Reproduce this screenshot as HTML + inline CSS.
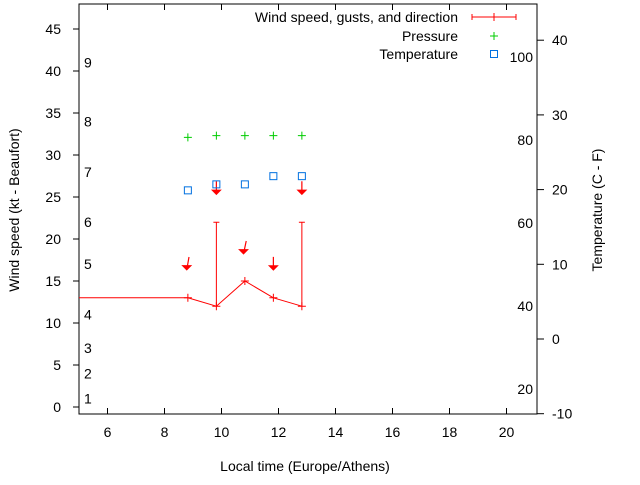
<!DOCTYPE html>
<html><head><meta charset="utf-8"><style>
body{margin:0;background:#fff}
svg text{font-family:"Liberation Sans",sans-serif;fill:#000}
</style></head><body>
<svg id="chart" width="640" height="480" viewBox="0 0 640 480" xmlns="http://www.w3.org/2000/svg">
<g id="axes"></g><g id="marks"></g><g id="legend"></g>
</svg>
<script>
const xTicks=[6,8,10,12,14,16,18,20];
const yTicks=[0,5,10,15,20,25,30,35,40,45];
const cTicks=[-10,0,10,20,30,40];
const fTicks=[20,40,60,80,100];
const beaufortKt=[1,4,7,11,17,22,28,34,41];
const beaufortLabels=["1","2","3","4","5","6","7","8","9"];
const times=[5,8.82,9.82,10.82,11.82,12.82];
const windKt=[13,13,12,15,13,12];
const gustTimes=[9.82,12.82];
const gustKt=[22,22];
const obsTimes=[8.82,9.82,10.82,11.82,12.82];
const arrowKt=[17.1,26.1,19,17.1,26.1];
const dirDeg=[10,0,12,0,0];
const pressureScaled=[32.1,32.3,32.3,32.3,32.3];
const tempC=[19.9,20.7,20.7,21.8,21.8];

const L=79,R=537,T=4,B=414;
const X=h=>L+(h-5)*28.5;
const Y=k=>407-k*8.4;
const YC=c=>339-c*7.47;
const NS="http://www.w3.org/2000/svg";
function mk(tag,attrs,parent,txt){const e=document.createElementNS(NS,tag);for(const k in attrs)e.setAttribute(k,attrs[k]);if(txt!==undefined)e.textContent=txt;document.getElementById(parent).appendChild(e);return e;}

let e;
e=mk('rect',{x:L,y:T,width:R-L,height:B-T,fill:'none',stroke:'#000','stroke-width':1},'axes');


xTicks.forEach(t=>{
 e=mk('line',{x1:X(t),x2:X(t),y1:B,y2:B-6,stroke:'#000'},'axes');
 
 
 e=mk('line',{x1:X(t),x2:X(t),y1:T,y2:T+6,stroke:'#000'},'axes');
 
 
 e=mk('text',{x:X(t),y:B+23,'text-anchor':'middle','font-size':14},'axes',String(t));
 
 
});
yTicks.forEach(t=>{
 e=mk('line',{x1:L,x2:L-6,y1:Y(t),y2:Y(t),stroke:'#000'},'axes');
 
 
 e=mk('text',{x:L-18,y:Y(t)+5,'text-anchor':'end','font-size':14},'axes',String(t));
 
 
});
cTicks.forEach(t=>{
 e=mk('line',{x1:R,x2:R+7,y1:YC(t),y2:YC(t),stroke:'#000'},'axes');
 
 
 e=mk('text',{x:R+15,y:YC(t)+5,'text-anchor':'start','font-size':14},'axes',String(t));
 
 
});
fTicks.forEach(t=>{
 e=mk('text',{x:R-4,y:YC((t-32)*5/9)+5,'text-anchor':'end','font-size':14},'axes',String(t));
 
 
});
beaufortKt.forEach((k,i)=>{
 e=mk('text',{x:84,y:Y(k)+5,'font-size':14},'axes',beaufortLabels[i]);
 
 
});
e=mk('text',{x:305,y:471,'text-anchor':'middle','font-size':14},'axes','Local time (Europe/Athens)');


e=mk('text',{x:0,y:0,'text-anchor':'middle','font-size':14,transform:'translate(19,210) rotate(-90)'},'axes','Wind speed (kt - Beaufort)');


e=mk('text',{x:0,y:0,'text-anchor':'middle','font-size':14,transform:'translate(602,210) rotate(-90)'},'axes','Temperature (C - F)');



// wind line
e=mk('polyline',{points:times.map((t,i)=>X(t)+','+Y(windKt[i])).join(' '),fill:'none',stroke:'#f00','stroke-width':1},'marks');


times.forEach((t,i)=>{if(i===0)return;
 e=mk('path',{d:`M${X(t)-4},${Y(windKt[i])}h8M${X(t)},${Y(windKt[i])-4}v8`,stroke:'#f00'},'marks');
 
 
});
gustTimes.forEach((t,i)=>{
 const w=windKt[times.indexOf(t)];
 e=mk('path',{d:`M${X(t)},${Y(w)}V${Y(gustKt[i])}M${X(t)-3},${Y(gustKt[i])}h6`,stroke:'#f00',fill:'none'},'marks');
 
 
});
obsTimes.forEach((t,i)=>{
 const cx=X(t),cy=Y(arrowKt[i]),a=dirDeg[i]*Math.PI/180,len=13;
 const dx=Math.sin(a)*len/2,dy=Math.cos(a)*len/2;
 const x1=cx+dx,y1=cy-dy,x2=cx-dx,y2=cy+dy;
 e=mk('path',{d:`M${x1},${y1}L${x2},${y2}M${x2-4},${y2-4}L${x2},${y2}L${x2+4},${y2-4}Z`,stroke:'#f00',fill:'#f00','stroke-width':1.2},'marks');
 
 
 e=mk('path',{d:`M${X(t)-4},${Y(pressureScaled[i])}h8M${X(t)},${Y(pressureScaled[i])-4}v8`,stroke:'#0c0'},'marks');
 
 
 e=mk('rect',{x:X(t)-3.5,y:YC(tempC[i])-3.5,width:7,height:7,fill:'none',stroke:'#0070e0'},'marks');
 
 
});
// legend
const leg=[["Wind speed, gusts, and direction",17],["Pressure",36],["Temperature",54]];
leg.forEach((l,i)=>{
 e=mk('text',{x:458,y:l[1]+5,'text-anchor':'end','font-size':14},'legend',l[0]);
 
 
});
e=mk('path',{d:'M472,17H516M472,14v6M516,14v6M494,13v8',stroke:'#f00',fill:'none'},'legend');


e=mk('path',{d:'M490,36h8M494,32v8',stroke:'#0c0'},'legend');


e=mk('rect',{x:490.5,y:50.5,width:7,height:7,fill:'none',stroke:'#0070e0'},'legend');


</script>
</body></html>
